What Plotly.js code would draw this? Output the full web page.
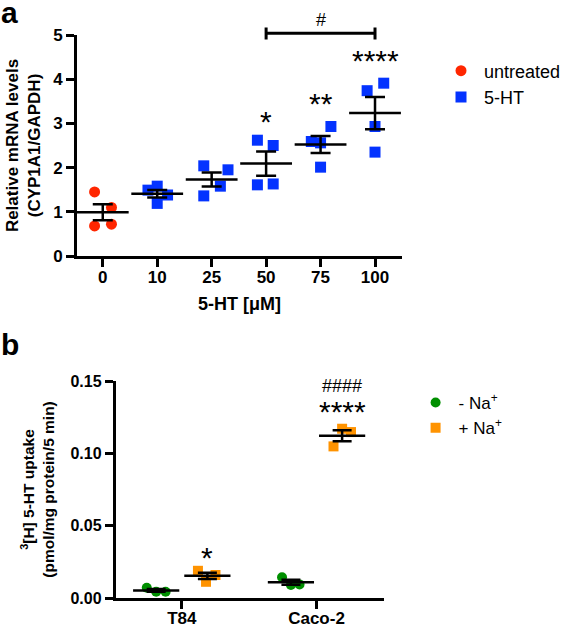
<!DOCTYPE html>
<html>
<head>
<meta charset="utf-8">
<script src="https://cdn.plot.ly/plotly-3.0.1.min.js"></script>
<style>html,body{margin:0;padding:0;background:#fff;}#chart{width:566px;height:627px;}</style>
</head>
<body>
<div id="chart"></div>
<script>
// ---------- Panel a data ----------
const doseLabels = ['0', '10', '25', '50', '75', '100'];
const untreated = [1.45, 1.10, 0.68, 0.72];
const ht10 = [1.58, 1.49, 1.38, 1.19];
const ht25 = [2.04, 1.95, 1.58, 1.36];
const ht50 = [2.62, 2.50, 1.61, 1.63];
const ht75 = [2.59, 2.56, 2.93, 2.01];
const ht100 = [3.74, 3.91, 2.93, 2.35];
const sigA = ['', '', '', '*', '**', '****'];
const bracketA = {from: 3, to: 5, label: '#'};

// ---------- Panel b data ----------
const cellLines = ['T84', 'Caco-2'];
const noNaT84 = [0.0071, 0.0043, 0.0043];
const noNaCaco2 = [0.0143, 0.0090, 0.0094];
const naT84 = [0.0188, 0.0159, 0.0112];
const naCaco2 = [0.1170, 0.1147, 0.1048];
const sigB = ['*', '****'];
const hashB = ['', '####'];

// ---------- layout helpers (horizontal scatter of points) ----------
const jitA = [[-0.15, 0.16, -0.15, 0.16], [0, -0.17, 0.19, 0], [-0.145, 0.30, 0.16, -0.145],
              [-0.16, 0.13, -0.16, 0.13], [-0.17, 0, 0.19, 0], [-0.145, 0.16, 0, 0]];
const jitB = {noNa: [[-0.07, 0, 0.07], [-0.066, 0, 0.064]], na: [[-0.07, 0.06, -0.01], [0, 0.066, -0.064]]};
const grpOff = 0.19;

const FONT = 'Liberation Sans, Arial, sans-serif';
const RED = '#FF2600', BLUE = '#0433FF', GREEN = '#008F00', ORANGE = '#FF9300';
const W = 566, H = 627;
const px = v => v / W;
const py = v => 1 - v / H;

function mean(a) { return a.reduce((s, v) => s + v, 0) / a.length; }
function sem(a) { const m = mean(a); const v = a.reduce((s, x) => s + (x - m) * (x - m), 0) / (a.length - 1); return Math.sqrt(v / a.length); }

const groupsA = [untreated, ht10, ht25, ht50, ht75, ht100];

// Panel a traces
const untX = untreated.map((v, i) => 0 + jitA[0][i]);
const htX = [], htY = [];
[ht10, ht25, ht50, ht75, ht100].forEach((g, gi) => {
  g.forEach((v, i) => { htX.push(gi + 1 + jitA[gi + 1][i]); htY.push(v); });
});

const traces = [];
traces.push({type: 'scatter', mode: 'markers', x: untX, y: untreated, name: 'untreated',
  xaxis: 'x', yaxis: 'y', legend: 'legend',
  marker: {symbol: 'circle', size: 11, color: RED}, cliponaxis: false});
traces.push({type: 'scatter', mode: 'markers', x: htX, y: htY, name: '5-HT',
  xaxis: 'x', yaxis: 'y', legend: 'legend',
  marker: {symbol: 'square', size: 11, color: BLUE}, cliponaxis: false});
traces.push({type: 'scatter', mode: 'markers', x: groupsA.map((g, i) => i), y: groupsA.map(mean),
  xaxis: 'x', yaxis: 'y', showlegend: false, hoverinfo: 'skip',
  marker: {symbol: 'line-ew', size: 37, color: '#000', line: {width: 2.5, color: '#000'}},
  error_y: {type: 'data', array: groupsA.map(sem), visible: true, color: '#000', thickness: 2.5, width: 10},
  cliponaxis: false});

// Panel b traces
const noNaGroups = [noNaT84, noNaCaco2];
const naGroups = [naT84, naCaco2];
const noNaX = [], noNaY = [], naX = [], naY = [];
noNaGroups.forEach((g, gi) => g.forEach((v, i) => { noNaX.push(gi - grpOff + jitB.noNa[gi][i]); noNaY.push(v); }));
naGroups.forEach((g, gi) => g.forEach((v, i) => { naX.push(gi + grpOff + jitB.na[gi][i]); naY.push(v); }));

traces.push({type: 'scatter', mode: 'markers', x: noNaX, y: noNaY, name: '- Na<sup>+</sup>',
  xaxis: 'x2', yaxis: 'y2', legend: 'legend2',
  marker: {symbol: 'circle', size: 10, color: GREEN}, cliponaxis: false});
traces.push({type: 'scatter', mode: 'markers', x: naX, y: naY, name: '+ Na<sup>+</sup>',
  xaxis: 'x2', yaxis: 'y2', legend: 'legend2',
  marker: {symbol: 'square', size: 10, color: ORANGE}, cliponaxis: false});
const allB = [noNaT84, naT84, noNaCaco2, naCaco2];
const allBX = [0 - grpOff, 0 + grpOff, 1 - grpOff, 1 + grpOff];
traces.push({type: 'scatter', mode: 'markers', x: allBX, y: allB.map(mean),
  xaxis: 'x2', yaxis: 'y2', showlegend: false, hoverinfo: 'skip',
  marker: {symbol: 'line-ew', size: 33, color: '#000', line: {width: 2.5, color: '#000'}},
  error_y: {type: 'data', array: allB.map(sem), visible: true, color: '#000', thickness: 2.5, width: 9.5},
  cliponaxis: false});

// ---------- annotations ----------
const annotations = [];
const starFont = {family: FONT, size: 30, color: '#000'};
sigA.forEach((s, i) => {
  if (!s) return;
  const top = Math.max(...groupsA[i]);
  const lift = {3: 0.42, 4: 0.52, 5: 0.51}[i];
  annotations.push({xref: 'x', yref: 'y', x: i, y: top + lift, text: s, showarrow: false,
    font: starFont, yanchor: 'middle'});
});
annotations.push({xref: 'x', yref: 'paper', x: (bracketA.from + bracketA.to) / 2, y: py(20), text: bracketA.label,
  showarrow: false, font: {family: FONT, size: 18, color: '#000'}, yanchor: 'middle'});
// panel b significance
const bTops = [Math.max(...naT84), Math.max(...naCaco2)];
sigB.forEach((s, i) => {
  annotations.push({xref: 'x2', yref: 'y2', x: i + grpOff, y: bTops[i] + [0.0095, 0.012][i], text: s,
    showarrow: false, font: starFont, yanchor: 'middle'});
});
hashB.forEach((s, i) => {
  if (!s) return;
  annotations.push({xref: 'x2', yref: 'y2', x: i + grpOff, y: bTops[i] + 0.0294, text: s,
    showarrow: false, font: {family: FONT, size: 18, color: '#000'}, yanchor: 'middle'});
});
// panel letters
annotations.push({xref: 'paper', yref: 'paper', x: px(-1), y: py(-6), text: '<b>a</b>', showarrow: false,
  xanchor: 'left', yanchor: 'top', font: {family: FONT, size: 30, color: '#000'}});
annotations.push({xref: 'paper', yref: 'paper', x: px(-1), y: py(326), text: '<b>b</b>', showarrow: false,
  xanchor: 'left', yanchor: 'top', font: {family: FONT, size: 30, color: '#000'}});

// ---------- shapes (bracket in panel a) ----------
const shapes = [
  {type: 'line', xref: 'x', yref: 'paper', x0: bracketA.from, x1: bracketA.to, y0: py(33.3), y1: py(33.3), line: {color: '#000', width: 3}},
  {type: 'line', xref: 'x', yref: 'paper', x0: bracketA.from, x1: bracketA.from, y0: py(27.5), y1: py(39.5), line: {color: '#000', width: 3}},
  {type: 'line', xref: 'x', yref: 'paper', x0: bracketA.to, x1: bracketA.to, y0: py(27.5), y1: py(39.5), line: {color: '#000', width: 3}}
];

const axBase = {showline: true, linewidth: 3, linecolor: '#000', ticks: 'outside', ticklen: 8, tickwidth: 3,
  tickcolor: '#000', showgrid: false, zeroline: false, fixedrange: true};

const layout = {
  width: W, height: H, margin: {l: 0, r: 0, t: 0, b: 0},
  paper_bgcolor: '#fff', plot_bgcolor: 'rgba(0,0,0,0)',
  font: {family: FONT, color: '#000'},
  showlegend: true,
  xaxis: Object.assign({}, axBase, {domain: [px(78), px(406)], range: [-0.47, 5.49], tickmode: 'array',
    tickvals: doseLabels.map((d, i) => i), ticktext: doseLabels, anchor: 'y', ticklabelstandoff: -4,
    tickfont: {family: FONT, size: 17, weight: 'bold'},
    title: {text: '5-HT [μM]', font: {family: FONT, size: 18, weight: 'bold'}, standoff: 11}}),
  yaxis: Object.assign({}, axBase, {domain: [py(256), py(35)], range: [0, 5], tickmode: 'array',
    tickvals: [0, 1, 2, 3, 4, 5], anchor: 'x',
    tickfont: {family: FONT, size: 17, weight: 'bold'},
    title: {text: 'Relative mRNA levels<br>(CYP1A1/GAPDH)', font: {family: FONT, size: 17, weight: 'bold'}, standoff: 9}}),
  xaxis2: Object.assign({}, axBase, {domain: [px(117), px(388)], range: [-0.49, 1.5], tickmode: 'array',
    tickvals: [0, 1], ticktext: cellLines, anchor: 'y2', ticklabelstandoff: -5,
    tickfont: {family: FONT, size: 17, weight: 'bold'}}),
  yaxis2: Object.assign({}, axBase, {domain: [py(598), py(381)], range: [0, 0.15], tickmode: 'array',
    tickvals: [0, 0.05, 0.10, 0.15], ticktext: ['0.00', '0.05', '0.10', '0.15'], anchor: 'x2',
    tickfont: {family: FONT, size: 16, weight: 'bold'},
    title: {text: '<sup>3</sup>[H] 5-HT uptake<br>(pmol/mg protein/5 min)', font: {family: FONT, size: 15.5, weight: 'bold'}, standoff: 12}}),
  legend: {x: px(443), y: py(52.5), xanchor: 'left', yanchor: 'top', bgcolor: 'rgba(0,0,0,0)', itemwidth: 36,
    font: {family: FONT, size: 18, color: '#000'}, itemclick: false, itemdoubleclick: false},
  legend2: {x: px(417), y: py(385), xanchor: 'left', yanchor: 'top', bgcolor: 'rgba(0,0,0,0)', itemwidth: 36,
    font: {family: FONT, size: 17, color: '#000'}, itemclick: false, itemdoubleclick: false},
  annotations: annotations,
  shapes: shapes
};

Plotly.newPlot('chart', traces, layout, {staticPlot: true, displayModeBar: false});
</script>
</body>
</html>
